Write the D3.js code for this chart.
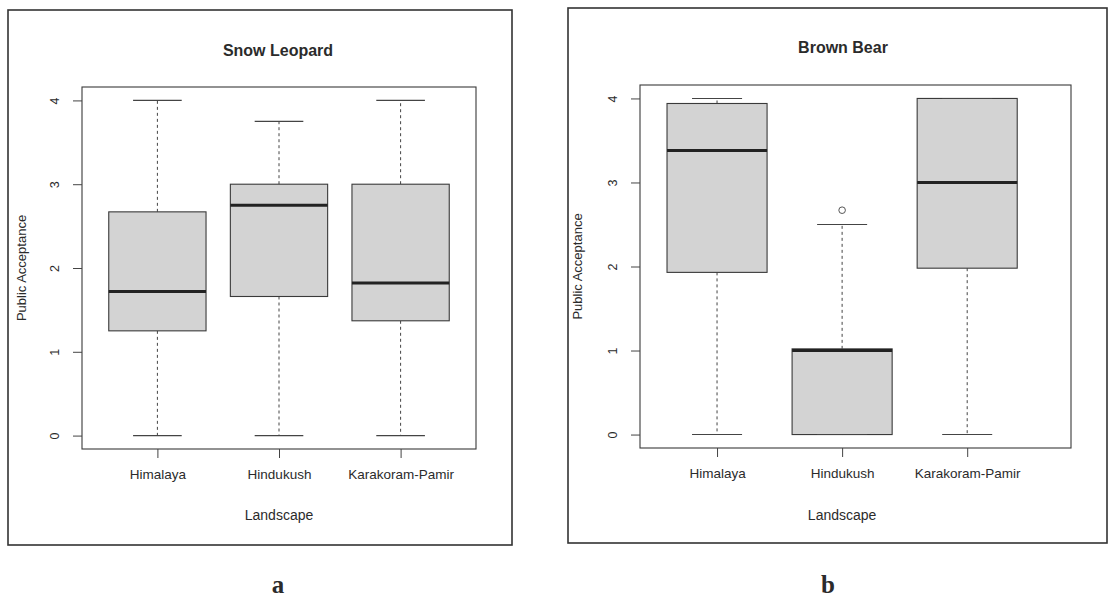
<!DOCTYPE html>
<html>
<head>
<meta charset="utf-8">
<script src="https://cdn.jsdelivr.net/npm/d3@7"></script>
<style>
  html, body { margin: 0; padding: 0; background: #ffffff; }
  svg { display: block; }
  text { font-family: "Liberation Sans", Arial, Helvetica, sans-serif; fill: #2b2b2b; }
</style>
</head>
<body>
<svg id="chart" width="1109" height="597"></svg>
<script>
// Landscapes on the x axis (shared by both panels)
const categories = ["Himalaya", "Hindukush", "Karakoram-Pamir"];
const yTicks = [0, 1, 2, 3, 4];

// Snow leopard: five-number summaries per landscape
const snowLeopardMin    = [0, 0, 0];
const snowLeopardQ1     = [1.25, 1.66, 1.37];
const snowLeopardMedian = [1.72, 2.75, 1.82];
const snowLeopardQ3     = [2.67, 3.0, 3.0];
const snowLeopardMax    = [4.0, 3.75, 4.0];
const snowLeopardOutliers = [[], [], []];

// Brown bear: five-number summaries per landscape
const brownBearMin    = [0, 0, 0];
const brownBearQ1     = [1.93, 0, 1.98];
const brownBearMedian = [3.38, 1.0, 3.0];
const brownBearQ3     = [3.94, 1.02, 4.0];
const brownBearMax    = [4.0, 2.5, 4.0];
const brownBearOutliers = [[], [2.67], []];

const svg = d3.select("#chart");

function drawPanel(cfg) {
  const g = svg.append("g");

  // outer figure frame
  g.append("rect")
    .attr("x", cfg.frame[0]).attr("y", cfg.frame[1])
    .attr("width", cfg.frame[2] - cfg.frame[0])
    .attr("height", cfg.frame[3] - cfg.frame[1])
    .attr("fill", "none").attr("stroke", "#333").attr("stroke-width", 1.6);

  const x = d3.scaleLinear().domain(cfg.xDomain).range([cfg.plot[0], cfg.plot[2]]);
  const y = d3.scaleLinear().domain([-0.16, 4.16]).range([cfg.plot[3], cfg.plot[1]]);
  const unit = x(2) - x(1);
  const boxW = 0.8 * unit;

  const stats = categories.map((c, i) => ({
    name: c, pos: i + 1,
    min: cfg.min[i], q1: cfg.q1[i], med: cfg.median[i], q3: cfg.q3[i], max: cfg.max[i],
    out: cfg.outliers[i]
  }));

  // plot region border
  g.append("rect")
    .attr("x", cfg.plot[0]).attr("y", cfg.plot[1])
    .attr("width", cfg.plot[2] - cfg.plot[0])
    .attr("height", cfg.plot[3] - cfg.plot[1])
    .attr("fill", "none").attr("stroke", "#3a3a3a").attr("stroke-width", 1.1);

  // y axis
  const yAxis = g.append("g")
    .attr("transform", `translate(${cfg.plot[0]},0)`)
    .call(d3.axisLeft(y).tickValues(yTicks).tickSize(9).tickPadding(0).tickFormat(d3.format("d")));
  yAxis.select(".domain").remove();
  yAxis.selectAll(".tick line").attr("stroke", "#444").attr("stroke-width", 1);
  yAxis.selectAll(".tick text")
    .attr("x", null).attr("dy", null)
    .attr("transform", "translate(-27,0) rotate(-90)")
    .attr("text-anchor", "middle")
    .attr("dominant-baseline", "central")
    .style("font-size", "12.5px")
    .style("font-family", "'Liberation Sans', Arial, sans-serif")
    .attr("fill", "#2b2b2b");

  // x axis
  const xAxis = g.append("g")
    .attr("transform", `translate(0,${cfg.plot[3]})`)
    .call(d3.axisBottom(x).tickValues([1, 2, 3]).tickSize(9).tickPadding(11)
      .tickFormat(d => categories[d - 1]));
  xAxis.select(".domain").remove();
  xAxis.selectAll(".tick line").attr("stroke", "#444").attr("stroke-width", 1);
  xAxis.selectAll(".tick text")
    .style("font-size", "13.5px")
    .style("font-family", "'Liberation Sans', Arial, sans-serif")
    .attr("fill", "#2b2b2b");

  // whiskers (dashed) from box to extremes
  const wh = g.append("g");
  stats.forEach(s => {
    wh.append("line")
      .attr("x1", x(s.pos)).attr("x2", x(s.pos))
      .attr("y1", y(s.q3)).attr("y2", y(s.max))
      .attr("stroke", "#444").attr("stroke-width", 1).attr("stroke-dasharray", "3,3");
    wh.append("line")
      .attr("x1", x(s.pos)).attr("x2", x(s.pos))
      .attr("y1", y(s.q1)).attr("y2", y(s.min))
      .attr("stroke", "#444").attr("stroke-width", 1).attr("stroke-dasharray", "3,3");
  });

  // boxes
  g.append("g").selectAll("rect")
    .data(stats).join("rect")
    .attr("x", d => x(d.pos) - boxW / 2)
    .attr("width", boxW)
    .attr("y", d => y(d.q3))
    .attr("height", d => y(d.q1) - y(d.q3))
    .attr("fill", "#d3d3d3").attr("stroke", "#3a3a3a").attr("stroke-width", 1.1);

  // whisker caps
  const caps = g.append("g");
  stats.forEach(s => {
    [s.min, s.max].forEach(v => {
      caps.append("line")
        .attr("x1", x(s.pos) - boxW / 4).attr("x2", x(s.pos) + boxW / 4)
        .attr("y1", y(v)).attr("y2", y(v))
        .attr("stroke", "#444").attr("stroke-width", 1.1);
    });
  });

  // medians
  g.append("g").selectAll("line")
    .data(stats).join("line")
    .attr("x1", d => x(d.pos) - boxW / 2).attr("x2", d => x(d.pos) + boxW / 2)
    .attr("y1", d => y(d.med)).attr("y2", d => y(d.med))
    .attr("stroke", "#222").attr("stroke-width", 3);

  // outliers
  const outs = [];
  stats.forEach(s => s.out.forEach(v => outs.push({ pos: s.pos, v })));
  g.append("g").selectAll("circle")
    .data(outs).join("circle")
    .attr("cx", d => x(d.pos)).attr("cy", d => y(d.v)).attr("r", 3.3)
    .attr("fill", "none").attr("stroke", "#555").attr("stroke-width", 1);

  // title and axis titles
  g.append("text")
    .attr("x", cfg.titleX).attr("y", cfg.titleY)
    .attr("text-anchor", "middle").attr("dominant-baseline", "central")
    .style("font-size", "16px").style("font-weight", "bold")
    .text(cfg.title);

  g.append("text")
    .attr("x", (x(1) + x(3)) / 2).attr("y", 515)
    .attr("text-anchor", "middle").attr("dominant-baseline", "central")
    .style("font-size", "14px")
    .text("Landscape");

  g.append("text")
    .attr("transform", `translate(${cfg.yLabelX},${(cfg.plot[1] + cfg.plot[3]) / 2}) rotate(-90)`)
    .attr("text-anchor", "middle").attr("dominant-baseline", "central")
    .style("font-size", "13px")
    .text("Public Acceptance");

  // panel letter
  g.append("text")
    .attr("x", cfg.letterX).attr("y", 584)
    .attr("text-anchor", "middle").attr("dominant-baseline", "central")
    .style("font-family", "'Liberation Serif', 'DejaVu Serif', serif")
    .style("font-size", "25px").style("font-weight", "bold")
    .attr("fill", "#1a1a1a")
    .text(cfg.letter);
}

drawPanel({
  frame: [8, 10, 512, 545],
  plot: [82, 87, 476, 449],
  xDomain: [0.38, 3.62],
  min: snowLeopardMin, q1: snowLeopardQ1, median: snowLeopardMedian,
  q3: snowLeopardQ3, max: snowLeopardMax, outliers: snowLeopardOutliers,
  title: "Snow Leopard", titleX: 278, titleY: 50, yLabelX: 21,
  letter: "a", letterX: 278
});

drawPanel({
  frame: [568, 8, 1107, 543],
  plot: [640, 85, 1071, 448],
  xDomain: [0.384, 3.83],
  min: brownBearMin, q1: brownBearQ1, median: brownBearMedian,
  q3: brownBearQ3, max: brownBearMax, outliers: brownBearOutliers,
  title: "Brown Bear", titleX: 843, titleY: 47, yLabelX: 577,
  letter: "b", letterX: 828
});
</script>
</body>
</html>
